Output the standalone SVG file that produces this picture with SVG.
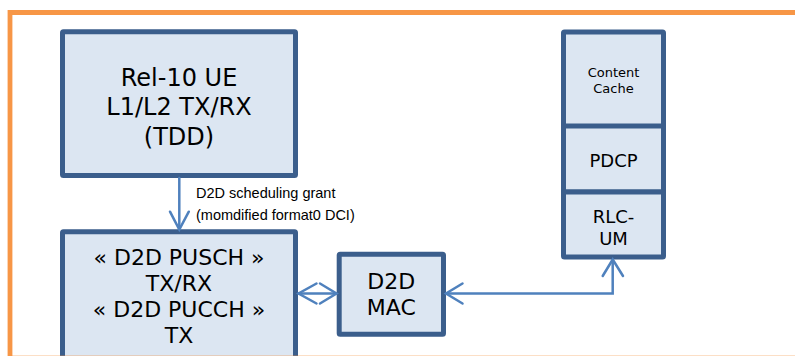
<svg xmlns="http://www.w3.org/2000/svg" width="795" height="356" viewBox="0 0 795 356">
  <defs>
    <style>
      .box { fill: #DCE6F2; stroke: #3B5E8C; stroke-width: 5; }
      .big { font-family: "DejaVu Sans", Verdana, sans-serif; font-size: 24px; fill: #000; text-anchor: middle; }
      .mid { font-family: "DejaVu Sans", Verdana, sans-serif; font-size: 22px; fill: #000; text-anchor: middle; }
      .layer { font-family: "DejaVu Sans", Verdana, sans-serif; font-size: 18px; fill: #000; text-anchor: middle; }
      .small { font-family: "DejaVu Sans", Verdana, sans-serif; font-size: 13px; fill: #000; text-anchor: middle; }
      .label { font-family: "Liberation Sans", Arial, sans-serif; font-size: 14.5px; fill: #000; }
      .wire { fill: none; stroke: #4F81BD; stroke-width: 2.5; stroke-linecap: round; stroke-linejoin: miter; }
    </style>
  </defs>

  <rect width="795" height="356" fill="#FFFFFF"/>

  <!-- Rel-10 UE block -->
  <g id="rel10-ue">
    <rect class="box" x="62.5" y="31.8" width="233" height="143.7" rx="1"/>
    <text class="big" x="179" y="86">Rel-10 UE</text>
    <text class="big" x="179" y="115">L1/L2 TX/RX</text>
    <text class="big" x="179" y="145">(TDD)</text>
  </g>

  <!-- D2D physical channels block -->
  <g id="d2d-phy">
    <rect class="box" x="62.5" y="231.8" width="233" height="140" rx="1"/>
    <text class="mid" x="179" y="265">« D2D PUSCH »</text>
    <text class="mid" x="179" y="291">TX/RX</text>
    <text class="mid" x="179" y="317">« D2D PUCCH »</text>
    <text class="mid" x="179" y="343">TX</text>
  </g>

  <!-- D2D MAC block -->
  <g id="d2d-mac">
    <rect class="box" x="339.2" y="254.2" width="104.3" height="80" rx="1"/>
    <text class="mid" x="391.3" y="289.3">D2D</text>
    <text class="mid" x="391.3" y="315">MAC</text>
  </g>

  <!-- Protocol stack on the right -->
  <g id="content-cache">
    <rect class="box" x="563.5" y="32" width="100" height="94.5" rx="1"/>
    <text class="small" x="613.5" y="77">Content</text>
    <text class="small" x="613.5" y="93">Cache</text>
  </g>
  <g id="pdcp">
    <rect class="box" x="563.5" y="126" width="100" height="66" rx="0"/>
    <text class="layer" x="613.5" y="166.7">PDCP</text>
  </g>
  <g id="rlc-um">
    <rect class="box" x="563.5" y="192" width="100" height="65" rx="1"/>
    <text class="layer" x="613.5" y="223.3">RLC-</text>
    <text class="layer" x="613.5" y="245">UM</text>
  </g>

  <!-- Connectors -->
  <g id="connectors">
    <!-- scheduling grant: UE block down to D2D PHY -->
    <path class="wire" d="M179.3 178 V229"/>
    <path class="wire" d="M170 211.7 L179.3 229.5 L188.8 211.7"/>

    <!-- PHY <-> MAC -->
    <path class="wire" d="M298.5 293.5 H336"/>
    <path class="wire" d="M316.5 283.5 L298.5 293.5 L316.5 303.5"/>
    <path class="wire" d="M320 283.5 L336.5 293.5 L320 303.5"/>

    <!-- MAC <-> RLC-UM -->
    <path class="wire" d="M446 293.5 H612.7 V260"/>
    <path class="wire" d="M462.5 283.5 L446 293.5 L462.5 303.5"/>
    <path class="wire" d="M602.7 276 L612.7 259.5 L623 276"/>

    <text class="label" x="196" y="198.3">D2D scheduling grant</text>
    <text class="label" x="196" y="220">(momdified format0 DCI)</text>
  </g>

  <!-- Outer frame -->
  <g id="frame">
    <path d="M10 360 V12.5 H800" fill="none" stroke="#F79646" stroke-width="4.8"/>
    <line x1="10" y1="355.5" x2="795" y2="355.5" stroke="#F79646" stroke-width="1" opacity="0.3"/>
  </g>
</svg>
